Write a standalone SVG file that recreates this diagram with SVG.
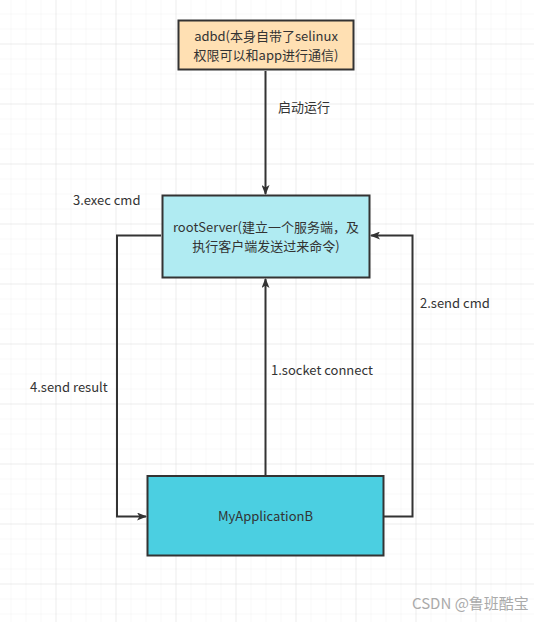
<svg xmlns="http://www.w3.org/2000/svg" width="534" height="622" viewBox="0 0 534 622">
<defs>
<pattern id="minor" width="15" height="15" patternUnits="userSpaceOnUse" x="-3.5" y="-0.5">
<path d="M15 0V15M0 15H15" fill="none" stroke="#f0f0f0" stroke-width="1"/>
</pattern>
<pattern id="major" width="60" height="60" patternUnits="userSpaceOnUse" x="-3.5" y="-15.5">
<path d="M60 0V60M0 60H60" fill="none" stroke="#e2e2e2" stroke-width="1"/>
</pattern>
<marker id="arr" viewBox="0 0 10 8" refX="9" refY="4" markerWidth="10" markerHeight="8" markerUnits="userSpaceOnUse" orient="auto">
<path d="M0 0L10 4L0 8L2.5 4Z" fill="#333"/>
</marker>
</defs>
<style>
.box{stroke:#333;stroke-width:2}
.t{font-family:"Noto Sans CJK SC","Noto Sans",sans-serif;font-size:13px;fill:#333}
.c{text-anchor:middle}
.ln{fill:none;stroke:#333;stroke-width:2}
</style>
<rect width="534" height="622" fill="#fff"/>
<rect width="534" height="622" fill="url(#minor)"/>
<rect width="534" height="622" fill="url(#major)"/>
<g id="connectors">
<path class="ln" d="M265.5 71V194" marker-end="url(#arr)"/>
<path class="ln" d="M265.5 475V279" marker-end="url(#arr)"/>
<path class="ln" d="M384 516.5H412.5V235.5H371" marker-end="url(#arr)"/>
<path class="ln" d="M161 235.5H117V516.5H146" marker-end="url(#arr)"/>
<text class="t" x="278" y="112">启动运行</text>
<text class="t" x="271" y="375">1.socket connect</text>
<text class="t" x="420" y="308">2.send cmd</text>
<text class="t" x="73" y="205">3.exec cmd</text>
<text class="t" x="30" y="392">4.send result</text>
</g>
<g id="adbd">
<rect class="box" x="178.5" y="20.5" width="175" height="49" fill="#ffe0b3"/>
<text class="t c" x="266" y="41"><tspan x="266">adbd(本身自带了selinux</tspan><tspan x="266" dy="18.5">权限可以和app进行通信)</tspan></text>
</g>
<g id="rootServer">
<rect class="box" x="162.5" y="195.5" width="207" height="82" fill="#b0ebf2"/>
<text class="t c" x="266" y="232"><tspan x="266">rootServer(建立一个服务端，及</tspan><tspan x="266" dy="18.5">执行客户端发送过来命令)</tspan></text>
</g>
<g id="MyApplicationB">
<rect class="box" x="147.5" y="476" width="236" height="79.5" fill="#4bcfe1"/>
<text class="t c" x="265.5" y="521">MyApplicationB</text>
</g>
<text x="412" y="609" style="font-family:'Noto Sans CJK SC',sans-serif;font-size:15px;fill:#aaa">CSDN @鲁班酷宝</text>
</svg>
